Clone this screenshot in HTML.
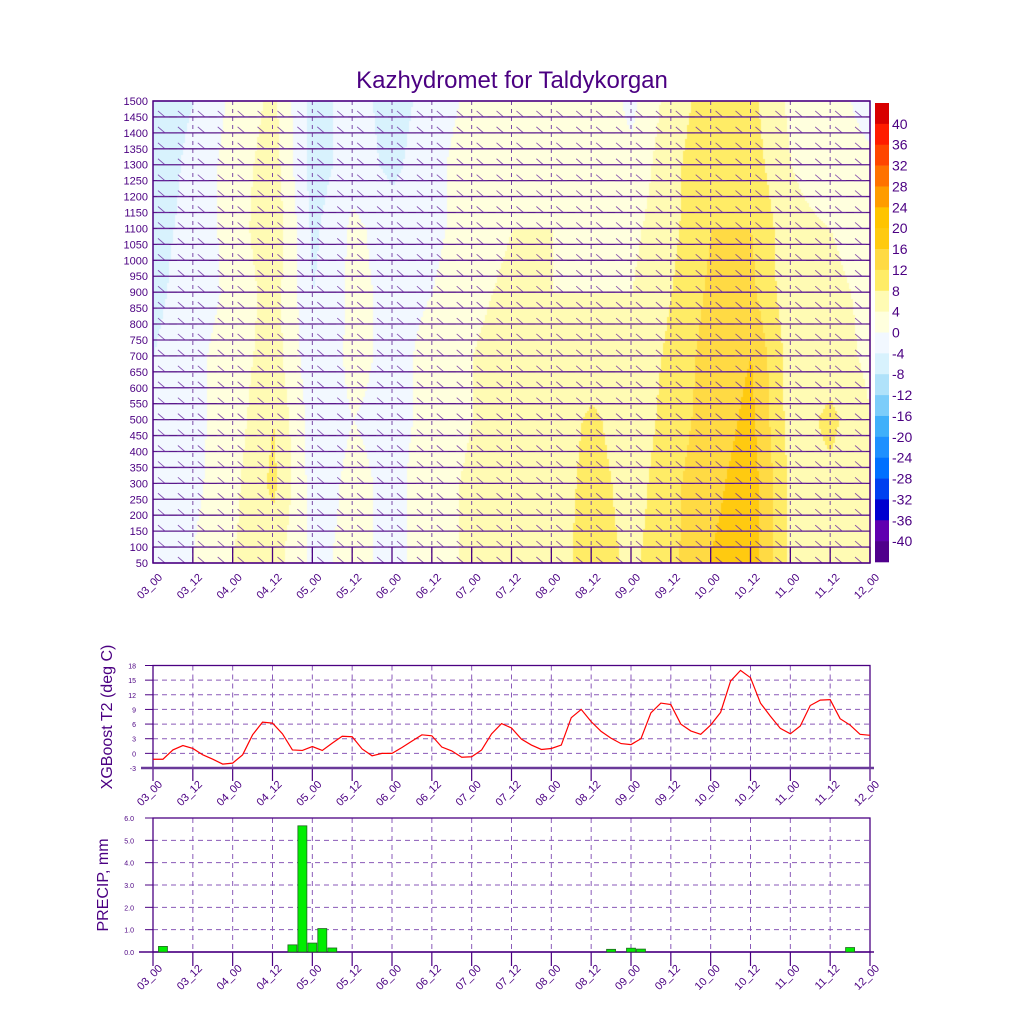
<!DOCTYPE html>
<html><head><meta charset="utf-8">
<style>
html,body{margin:0;padding:0;background:#fff;}
#wrap{position:relative;width:1024px;height:1024px;overflow:hidden;font-family:"Liberation Sans",sans-serif;}
canvas,svg{position:absolute;left:0;top:0;}
</style></head>
<body>
<div id="wrap">
<canvas id="field" width="1024" height="1024"></canvas>
<svg id="svg" width="1024" height="1024" xmlns="http://www.w3.org/2000/svg"></svg>
</div>
<script>
// ---------- data ----------
const timeLabels = ["03_00","03_12","04_00","04_12","05_00","05_12","06_00","06_12","07_00","07_12","08_00","08_12","09_00","09_12","10_00","10_12","11_00","11_12","12_00"];
const heightLevels = [1500,1300,1100,900,700,500,300,100];
const tempField = [
[-6,-4,1,5,-6,-2,-6,-2,1,3,3,3,-1,6,10,9,3,2,-2],
[-6,-3,2,6,-6,-2,-5,-1,2,3,4,2,1,7,11,10,4,2,1],
[-5,-3,2,7,-5,1,-2,-1,2,4,4,3,3,7,12,12,5,4,2],
[-5,-2,1,6,-4,1,-1,0,3,5,4,4,4,8,13,13,5,5,3],
[-4,-1,2,6,-3,1,-1,1,4,6,5,5,5,9,14,16,6,6,3],
[-3,-1,2,8,-2,0,-1,1,4,6,5,9,5,10,14,17,6,9,4],
[-2,-1,3,9,-2,1,-1,2,5,7,5,10,6,11,15,18,7,7,4],
[-1,0,4,6,-1,1,-1,2,5,7,6,10,7,11,16,18,7,6,4]];
const yTickLabels = [50,100,150,200,250,300,350,400,450,500,550,600,650,700,750,800,850,900,950,1000,1050,1100,1150,1200,1250,1300,1350,1400,1450,1500];
const cbarLabels = [40,36,32,28,24,20,16,12,8,4,0,-4,-8,-12,-16,-20,-24,-28,-32,-36,-40];
const cbarColors = ["#d80000","#ff1c00","#ff4600","#ff7200","#ff9c00","#ffc400","#ffca10","#ffda44","#ffec66","#fffbb4","#ffffde","#f2f8ff","#d8f2fd","#b0e2fa","#7ccdfa","#40b0fa","#1e90ff","#0070ff","#0040f0","#0000d0","#6000b0","#50008c"];
const t2Values = [-1.2,-1.2,0.7,1.6,1.0,-0.3,-1.2,-2.2,-2.0,-0.3,3.8,6.4,6.2,4.0,0.7,0.6,1.4,0.6,2.1,3.5,3.4,0.9,-0.5,0.0,0.0,1.2,2.5,3.8,3.6,1.3,0.5,-0.8,-0.7,0.7,4.0,6.1,5.2,2.9,1.7,0.8,1.0,1.7,7.3,9.0,6.5,4.5,3.1,2.0,1.8,3.0,8.3,10.3,10.0,6.0,4.6,3.9,5.8,8.4,14.8,17.0,15.5,10.3,7.6,5.1,4.0,5.6,9.8,10.9,11.0,7.1,5.8,3.9,3.7];
const t2Ticks = [-3,0,3,6,9,12,15,18];
const precipIndex = [1,14,15,16,17,18,46,48,49,70];
const precipValues = [0.25,0.32,5.65,0.4,1.05,0.18,0.12,0.17,0.13,0.2];
const precipTicks = ["0.0","1.0","2.0","3.0","4.0","5.0","6.0"];

// ---------- geometry ----------
const X0=153, X1=870;
const xStep=(i)=>X0+(X1-X0)*i/72;
const xCol=(c)=>X0+(X1-X0)*c/18;
const TY0=101, TY1=563;
const yH=(h)=>TY1-(h-50)/(1450)*(TY1-TY0);
const LY0=665.5, LY1=768;
const yT=(v)=>LY1-(v+3)/21*(LY1-LY0);
const PY0=818, PY1=952;
const yP=(v)=>PY1-v/6*(PY1-PY0);
const PURPLE="#4b0082";

// ---------- field ----------
const ctx=document.getElementById('field').getContext('2d');
function tempAt(c,h){
  let hh=Math.max(100,Math.min(1500,h));
  let r=0; while(r<heightLevels.length-2 && hh<heightLevels[r+1]) r++;
  let f=(heightLevels[r]-hh)/(heightLevels[r]-heightLevels[r+1]);
  let c0=Math.min(Math.floor(c),17), fc=c-c0;
  const g=(rr,cc)=>tempField[rr][cc];
  let a=g(r,c0)*(1-fc)+g(r,c0+1)*fc;
  let b=g(r+1,c0)*(1-fc)+g(r+1,c0+1)*fc;
  return a*(1-f)+b*f;
}
function colorFor(tv){
  let idx=Math.floor((44-tv)/4);
  idx=Math.max(0,Math.min(cbarColors.length-1,idx));
  return cbarColors[idx];
}
for(let px=X0;px<X1;px+=2){
  for(let py=TY0;py<TY1;py+=2){
    const c=(px-X0)/(X1-X0)*18;
    const h=50+(TY1-py)/(TY1-TY0)*1450;
    ctx.fillStyle=colorFor(tempAt(c,h));
    ctx.fillRect(px,py,2,2);
  }
}

// ---------- svg helpers ----------
const svgEl=document.getElementById('svg');
const NS="http://www.w3.org/2000/svg";
function mk(tag,attrs,parent){const e=document.createElementNS(NS,tag);for(const k in attrs)e.setAttribute(k,attrs[k]);(parent||svgEl).appendChild(e);return e;}
function txt(s,attrs,parent){const e=mk('text',attrs,parent);e.textContent=s;return e;}

const titleEl=txt("Kazhydromet for Taldykorgan",{x:512,y:88,'text-anchor':'middle','font-size':24,fill:PURPLE});



// ---------- upper plot ----------
const upperG=mk('g',{});


for(let c=1;c<18;c++){
  const l=mk('line',{x1:xCol(c),x2:xCol(c),y1:TY0,y2:TY1,stroke:"#7a4aa8",'stroke-width':1,'stroke-dasharray':'4,4'},upperG);
  
  
}
yTickLabels.forEach(h=>{
  const y=yH(h);
  const l=mk('line',{x1:X0,x2:X1,y1:y,y2:y,stroke:"#5a1a8a",'stroke-width':1.3},upperG);
  
  
  const tl=txt(h,{x:148,y:y+4,'text-anchor':'end','font-size':11,fill:PURPLE},upperG);
  
  
});
const barbs=mk('g',{stroke:"#6a2aa0",'stroke-width':0.9,fill:'none',opacity:0.8},upperG);


let bp="";
yTickLabels.forEach(h=>{
  if(h>=1500) return;
  const y=yH(h);
  for(let i=1;i<72;i+=2){
    const x=xStep(i);
    bp+=`M${x-5},${y-6}L${x+2},${y}M${x-6},${y}L${x+6},${y}`;
  }
});
mk('path',{d:bp},barbs);
for(let c=0;c<=18;c++){
  const l=mk('line',{x1:xCol(c),x2:xCol(c),y1:TY1-16,y2:TY1,stroke:PURPLE,'stroke-width':1.3},upperG);
  
  
}
const frameU=mk('rect',{x:X0,y:TY0,width:X1-X0,height:TY1-TY0,fill:'none',stroke:PURPLE,'stroke-width':1.5},upperG);



function xLabels(yAxis,g,name){
  timeLabels.forEach((s,c)=>{
    const x=xCol(c)+10, y=yAxis+15;
    const e=txt(s,{x:x,y:y,'text-anchor':'end','font-size':11,fill:PURPLE,transform:`rotate(-45 ${x} ${y})`},g);
    
    
  });
}
xLabels(TY1,upperG,'x-tick-label');

// colorbar
const cb=mk('g',{});


const CB0=103, CB1=562, bh=(CB1-CB0)/cbarColors.length;
cbarColors.forEach((col,i)=>{
  const r=mk('rect',{x:875,y:CB0+i*bh,width:14,height:bh+0.3,fill:col},cb);
  
  
});
cbarLabels.forEach((v,i)=>{
  const e=txt(v,{x:892,y:CB0+(i+1)*bh+5,'font-size':14,fill:PURPLE},cb);
  
  
});

// ---------- T2 line chart ----------
const lg=mk('g',{});


t2Ticks.forEach(v=>{
  const y=yT(v);
  if(v>-3 && v<18){
    const l=mk('line',{x1:X0,x2:X1,y1:y,y2:y,stroke:"#8a5ab8",'stroke-dasharray':'5,4'},lg);
    
    
  }
  const tk=mk('line',{x1:X0-8,x2:X0,y1:y,y2:y,stroke:PURPLE},lg);
  
  
  const e=txt(v,{x:136,y:y+3,'text-anchor':'end','font-size':7,fill:PURPLE},lg);
  
  
});
for(let c=0;c<=18;c++){
  const x=xCol(c);
  if(c>0&&c<18){const l=mk('line',{x1:x,x2:x,y1:LY0,y2:LY1,stroke:"#8a5ab8",'stroke-dasharray':'5,4'},lg);
  
  }
  const tk=mk('line',{x1:x,x2:x,y1:LY1,y2:LY1+13,stroke:PURPLE,'stroke-width':1.2},lg);
  
  
}
const lf=mk('rect',{x:X0,y:LY0,width:X1-X0,height:LY1-LY0,fill:'none',stroke:PURPLE,'stroke-width':1.3},lg);


const bl=mk('line',{x1:X0-12,x2:X1+4,y1:LY1,y2:LY1,stroke:"#6a3a9a",'stroke-width':2.5},lg);


const pl=mk('polyline',{points:t2Values.map((v,i)=>xStep(i)+','+yT(v)).join(' '),fill:'none',stroke:'#ff0000','stroke-width':1.2},lg);


xLabels(LY1+2,lg,'x-tick-label');
const ly=txt("XGBoost T2 (deg C)",{x:0,y:0,'text-anchor':'middle','font-size':16,fill:PURPLE,transform:`translate(112 717) rotate(-90)`},lg);



// ---------- precip bar chart ----------
const pg=mk('g',{});


precipTicks.forEach((s,i)=>{
  const y=yP(i);
  if(i>0&&i<6){const l=mk('line',{x1:X0,x2:X1,y1:y,y2:y,stroke:"#8a5ab8",'stroke-dasharray':'5,4'},pg);
  
  }
  const tk=mk('line',{x1:X0-8,x2:X0,y1:y,y2:y,stroke:PURPLE},pg);
  
  
  const e=txt(s,{x:134,y:y+3,'text-anchor':'end','font-size':7,fill:PURPLE},pg);
  
  
});
for(let c=0;c<=18;c++){
  const x=xCol(c);
  if(c>0&&c<18){const l=mk('line',{x1:x,x2:x,y1:PY0,y2:PY1,stroke:"#8a5ab8",'stroke-dasharray':'5,4'},pg);
  
  }
  const tk=mk('line',{x1:x,x2:x,y1:PY1,y2:PY1+14,stroke:PURPLE,'stroke-width':1.2},pg);
  
  
}
const pf=mk('rect',{x:X0,y:PY0,width:X1-X0,height:PY1-PY0,fill:'none',stroke:PURPLE,'stroke-width':1.3},pg);


const pb=mk('line',{x1:X0-14,x2:X1+4,y1:PY1,y2:PY1,stroke:PURPLE,'stroke-width':1.5},pg);


precipIndex.forEach((idx,i)=>{
  const x=xStep(idx);
  const y=yP(precipValues[i]);
  const r=mk('rect',{x:x-4.5,y:y,width:9,height:PY1-y,fill:'#00ee00',stroke:'#226622','stroke-width':0.8},pg);
  
  
});
xLabels(PY1+2,pg,'x-tick-label');
const pyT=txt("PRECIP, mm",{x:0,y:0,'text-anchor':'middle','font-size':16,fill:PURPLE,transform:`translate(108 885) rotate(-90)`},pg);


</script>
</body></html>
